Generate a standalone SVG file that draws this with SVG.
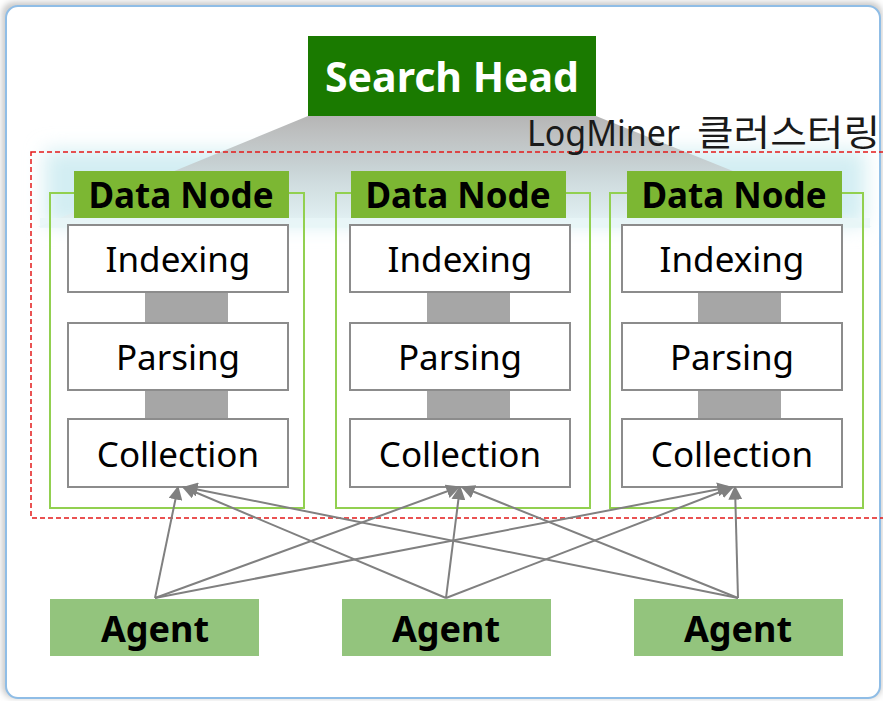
<svg xmlns="http://www.w3.org/2000/svg" width="883" height="701" viewBox="0 0 883 701">
<style>
.frame{fill:#ffffff;stroke:#8fbde6;stroke-width:2}
.dn{fill:none;stroke:#92d050;stroke-width:2}
.dnl{fill:#7cb733}
.dnt{font-family:"Noto Sans","Open Sans",sans-serif;font-weight:bold;font-size:35px;fill:#000;text-anchor:middle}
.box{fill:#ffffff;stroke:#8c8c8c;stroke-width:2}
.bar{fill:#a6a6a6}
.bt{font-family:"Noto Sans","Open Sans",sans-serif;font-size:35px;fill:#000;text-anchor:middle}
.ag{fill:#93c47d}
.agt{font-family:"Noto Sans","Open Sans",sans-serif;font-weight:bold;font-size:36px;fill:#000;text-anchor:middle}
.conn line{stroke:#808080;stroke-width:2;marker-end:url(#ah)}
</style>
<defs>
<marker id="ah" viewBox="0 0 10 10" refX="9" refY="5" markerWidth="7" markerHeight="7" markerUnits="strokeWidth" orient="auto">
<path d="M0,0 L10,5 L0,10 z" fill="#808080"/>
</marker>
<linearGradient id="fun" x1="0" y1="0" x2="0" y2="1">
<stop offset="0" stop-color="#a8a8a8"/>
<stop offset="0.6" stop-color="#cfd9db"/>
<stop offset="1" stop-color="#e6f4f6"/>
</linearGradient>
<filter id="blur" x="-10%" y="-50%" width="120%" height="200%"><feGaussianBlur stdDeviation="10"/></filter>
<filter id="sh" x="-5%" y="-5%" width="110%" height="110%"><feGaussianBlur stdDeviation="3"/></filter>
</defs>
<rect x="0" y="0" width="883" height="701" fill="#ffffff"/>
<rect x="2" y="2" width="880" height="696" rx="12" fill="#c8c8c8" filter="url(#sh)"/>
<rect class="frame" x="6" y="6" width="874" height="692" rx="12"/>
<g id="glow">
<rect x="45" y="150" width="820" height="75" fill="#d3eef3" filter="url(#blur)"/>
<polygon points="308,116 596,116 872,227 38,227" fill="url(#fun)" opacity="0.85"/>
<rect x="40" y="218" width="830" height="10" fill="#e9f6f8" opacity="0.8"/>
</g>
<g id="cluster">
<rect x="31" y="152" width="860" height="366" fill="none" stroke="#e31a1a" stroke-width="1.5" stroke-dasharray="5,3"/>
<text y="146" font-family="'Noto Sans','Noto Sans CJK KR',sans-serif" font-size="36px" fill="#1a1a1a"><tspan x="527" textLength="153" lengthAdjust="spacingAndGlyphs">LogMiner</tspan><tspan x="697" textLength="183" lengthAdjust="spacingAndGlyphs">클러스터링</tspan></text>
</g>
<g id="search-head">
<rect x="308" y="36" width="288" height="80" fill="#1a7a00"/>
<text x="452" y="92" font-family="'Noto Sans','Open Sans',sans-serif" font-weight="bold" font-size="41px" fill="#ffffff" text-anchor="middle">Search Head</text>
</g>
<g id="datanode1">
<rect class="dn" x="50" y="193" width="254" height="315"/>
<rect class="dnl" x="74" y="171" width="215" height="47"/>
<text class="dnt" x="181" y="208">Data Node</text>
<rect class="bar" x="145" y="292" width="83" height="31"/>
<rect class="bar" x="145" y="390" width="83" height="29"/>
<rect class="box" x="68" y="225" width="220" height="67"/>
<text class="bt" x="178" y="272">Indexing</text>
<rect class="box" x="68" y="323" width="220" height="67"/>
<text class="bt" x="178" y="370">Parsing</text>
<rect class="box" x="68" y="419" width="220" height="68"/>
<text class="bt" x="178" y="467">Collection</text>
</g>
<g id="datanode2">
<rect class="dn" x="336" y="193" width="254" height="315"/>
<rect class="dnl" x="351" y="171" width="215" height="47"/>
<text class="dnt" x="458" y="208">Data Node</text>
<rect class="bar" x="427" y="292" width="83" height="31"/>
<rect class="bar" x="427" y="390" width="83" height="29"/>
<rect class="box" x="350" y="225" width="220" height="67"/>
<text class="bt" x="460" y="272">Indexing</text>
<rect class="box" x="350" y="323" width="220" height="67"/>
<text class="bt" x="460" y="370">Parsing</text>
<rect class="box" x="350" y="419" width="220" height="68"/>
<text class="bt" x="460" y="467">Collection</text>
</g>
<g id="datanode3">
<rect class="dn" x="610" y="193" width="253" height="315"/>
<rect class="dnl" x="627" y="171" width="215" height="47"/>
<text class="dnt" x="734" y="208">Data Node</text>
<rect class="bar" x="698" y="292" width="83" height="31"/>
<rect class="bar" x="698" y="390" width="83" height="29"/>
<rect class="box" x="622" y="225" width="220" height="67"/>
<text class="bt" x="732" y="272">Indexing</text>
<rect class="box" x="622" y="323" width="220" height="67"/>
<text class="bt" x="732" y="370">Parsing</text>
<rect class="box" x="622" y="419" width="220" height="68"/>
<text class="bt" x="732" y="467">Collection</text>
</g>
<g id="agent1">
<rect class="ag" x="50" y="599" width="209" height="57"/>
<text class="agt" x="155" y="642">Agent</text>
</g>
<g id="agent2">
<rect class="ag" x="342" y="599" width="209" height="57"/>
<text class="agt" x="446" y="642">Agent</text>
</g>
<g id="agent3">
<rect class="ag" x="634" y="599" width="209" height="57"/>
<text class="agt" x="738" y="642">Agent</text>
</g>
<g class="conn" id="connectors">
<line x1="155" y1="598" x2="178" y2="487"/>
<line x1="155" y1="598" x2="459" y2="487"/>
<line x1="155" y1="598" x2="730" y2="487"/>
<line x1="446" y1="598" x2="183" y2="487"/>
<line x1="446" y1="598" x2="460" y2="487"/>
<line x1="446" y1="598" x2="733" y2="487"/>
<line x1="738" y1="598" x2="185" y2="487"/>
<line x1="738" y1="598" x2="462" y2="487"/>
<line x1="738" y1="598" x2="735" y2="487"/>
</g>
</svg>
